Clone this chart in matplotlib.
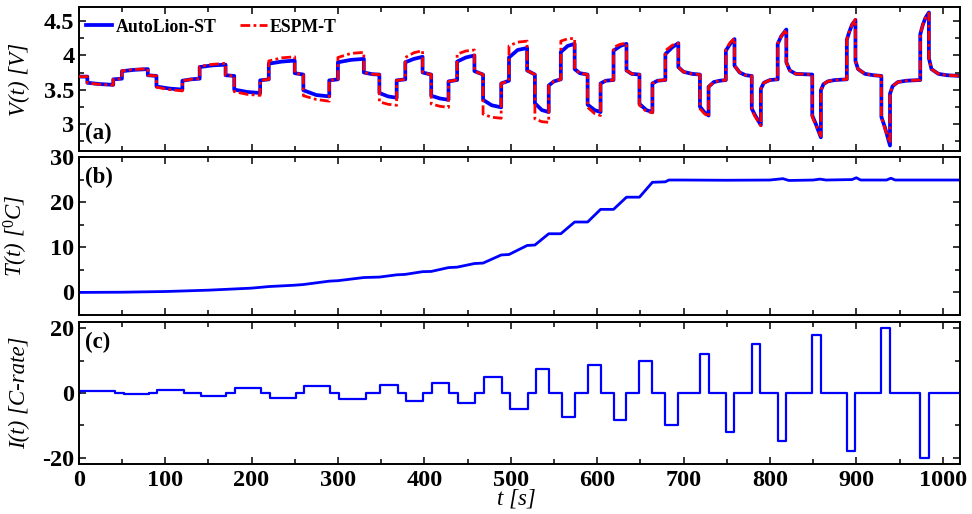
import matplotlib
matplotlib.use("Agg")
import matplotlib.pyplot as plt
from matplotlib.ticker import MultipleLocator

# ---------------- data ----------------
# Voltage: time points (duplicate times = instantaneous jumps)
t_v = [0, 10, 10, 25, 40, 40, 50, 50, 65, 80, 80, 90, 90, 105, 120, 120, 130, 140,
       140, 155, 170, 170, 180, 180, 195, 210, 210, 220, 220, 235, 250, 250, 260,
       260, 275, 290, 290, 300, 300, 315, 330, 330, 340, 348, 348, 358, 368, 368, 378,
       378, 388, 398, 398, 408, 408, 418, 428, 428, 438, 438, 448, 458, 458, 468,
       468, 478, 489, 489, 498, 498, 508, 519, 519, 528, 528, 536, 544, 544, 550, 558,
       558, 566, 574, 574, 580, 589, 589, 597, 604, 604, 610, 619, 619, 627, 634,
       634, 640, 649, 649, 657, 664, 664, 670, 679, 679, 687, 694, 694, 700, 710, 719,
       719, 724, 729, 729, 735, 742, 749, 749, 754, 759, 759, 765, 772, 779,
       779, 783, 789.5, 789.5, 793, 800, 809, 809, 813, 819, 819, 823, 830, 849,
       849, 853, 859, 859, 862, 867, 875, 889, 889, 892, 895, 899, 899, 902, 910, 920, 929,
       929, 933, 939, 939, 942, 948, 958, 974, 974, 977, 980, 984, 984, 987, 995, 1005, 1020]
v_autolion = [3.69, 3.69, 3.60, 3.58, 3.57, 3.65, 3.66, 3.77, 3.79, 3.80, 3.71, 3.70,
              3.545, 3.515, 3.50, 3.63, 3.65, 3.66, 3.83, 3.855, 3.865, 3.71, 3.70, 3.50,
              3.465, 3.45, 3.635, 3.65, 3.88, 3.91, 3.925, 3.74, 3.72, 3.49, 3.42, 3.40,
              3.635, 3.65, 3.90, 3.935, 3.95, 3.75, 3.725, 3.72, 3.45, 3.40, 3.38, 3.635,
              3.65, 3.90, 3.95, 3.98, 3.75, 3.72, 3.41, 3.37, 3.35, 3.62, 3.64, 3.91, 3.97,
              4.00, 3.77, 3.72, 3.35, 3.27, 3.24, 3.59, 3.63, 3.97, 4.08, 4.11, 3.78, 3.72,
              3.30, 3.20, 3.17, 3.56, 3.62, 3.65, 4.05, 4.14, 4.17, 3.80, 3.74, 3.72,
              3.28, 3.20, 3.17, 3.59, 3.63, 3.64, 4.07, 4.14, 4.17, 3.78, 3.73, 3.72,
              3.29, 3.20, 3.17, 3.59, 3.63, 3.64, 4.02, 4.12, 4.18, 3.83, 3.76, 3.73, 3.72,
              3.25, 3.17, 3.12, 3.54, 3.61, 3.63, 3.64, 4.07, 4.17, 4.24, 3.85, 3.75, 3.71, 3.70,
              3.22, 3.12, 2.98, 3.51, 3.60, 3.64, 3.65, 4.17, 4.28, 4.38, 3.90, 3.78, 3.73, 3.72,
              3.12, 3.00, 2.80, 3.49, 3.58, 3.62, 3.64, 3.65, 4.23, 4.35, 4.45, 4.52, 3.92, 3.80,
              3.73, 3.71, 3.70, 3.10, 2.95, 2.68, 3.44, 3.55, 3.61, 3.63, 3.64, 4.31, 4.45,
              4.55, 4.63, 3.96, 3.80, 3.73, 3.71, 3.70]
v_espm = [3.69, 3.69, 3.595, 3.575, 3.565, 3.65, 3.66, 3.775, 3.795, 3.805, 3.71, 3.70,
          3.535, 3.50, 3.48, 3.63, 3.65, 3.66, 3.84, 3.87, 3.885, 3.71, 3.70, 3.47,
          3.43, 3.415, 3.635, 3.65, 3.92, 3.965, 3.98, 3.74, 3.72, 3.41, 3.355, 3.33,
          3.635, 3.65, 3.97, 4.03, 4.045, 3.75, 3.725, 3.72, 3.32, 3.285, 3.27, 3.635,
          3.65, 3.97, 4.04, 4.07, 3.75, 3.72, 3.29, 3.255, 3.24, 3.62, 3.64, 4.02, 4.065,
          4.08, 3.77, 3.72, 3.14, 3.095, 3.08, 3.59, 3.63, 4.14, 4.195, 4.21, 3.78, 3.72,
          3.07, 3.03, 3.02, 3.56, 3.62, 3.65, 4.21, 4.245, 4.25, 3.80, 3.74, 3.72,
          3.24, 3.15, 3.12, 3.59, 3.63, 3.64, 4.12, 4.165, 4.18, 3.78, 3.73, 3.72,
          3.27, 3.18, 3.16, 3.59, 3.63, 3.64, 4.07, 4.15, 4.18, 3.83, 3.76, 3.73, 3.72,
          3.22, 3.15, 3.10, 3.54, 3.61, 3.63, 3.64, 4.09, 4.19, 4.25, 3.85, 3.75, 3.71, 3.70,
          3.20, 3.10, 2.97, 3.51, 3.60, 3.64, 3.65, 4.17, 4.28, 4.38, 3.90, 3.78, 3.73, 3.72,
          3.10, 2.98, 2.82, 3.49, 3.58, 3.62, 3.64, 3.65, 4.23, 4.35, 4.45, 4.53, 3.92, 3.80,
          3.73, 3.71, 3.70, 3.10, 2.93, 2.72, 3.44, 3.55, 3.61, 3.63, 3.64, 4.31, 4.45,
          4.55, 4.62, 3.96, 3.80, 3.73, 3.71, 3.70]

# Temperature
t_T = [0, 50, 100, 150, 200, 220, 250, 260, 290, 300, 330, 348, 368, 378, 398, 408,
       428, 438, 458, 468, 489, 498, 519, 528, 544, 558, 574, 589, 604, 619, 634, 649,
       664, 679, 683, 700, 750, 800, 815, 822, 850, 858, 865, 895, 900, 905, 935, 940,
       945, 1020]
temp = [0, 0.05, 0.2, 0.5, 0.95, 1.3, 1.6, 1.75, 2.5, 2.6, 3.3, 3.4, 3.9, 4.0, 4.6, 4.65,
        5.5, 5.6, 6.4, 6.5, 8.3, 8.4, 10.4, 10.5, 13.0, 13.0, 15.6, 15.6, 18.4, 18.4,
        21.1, 21.1, 24.4, 24.5, 24.9, 24.9, 24.85, 24.9, 25.2, 24.8, 24.9, 25.1, 24.9,
        25.0, 25.4, 24.9, 24.9, 25.3, 24.9, 24.9]

# Current profile (value holds from each time until the next)
t_I = [0, 2, 42, 52, 81, 91, 122, 141, 171, 181, 211, 221, 251, 261, 291, 301, 332,
       349, 369, 379, 399, 409, 429, 439, 459, 469, 490, 499, 520, 529, 544, 559, 574,
       590, 604, 620, 634, 649, 664, 679, 694, 719, 729, 749, 759, 779, 789, 809, 819,
       849, 859, 889, 899, 929, 939, 974, 984, 1020]
current = [0, 0.5, 0, -0.5, 0, 1, 0, -1, 0, 1.5, 0, -1.5, 0, 2, 0, -2, 0, 2.5, 0, -2.5,
           0, 3, 0, -3, 0, 5, 0, -5, 0, 7.5, 0, -7.5, 0, 8.5, 0, -8.5, 0, 10, 0, -10,
           0, 12, 0, -12, 0, 15, 0, -15, 0, 18, 0, -18, 0, 20, 0, -20, 0, 0]

series_names = ["AutoLion-ST", "ESPM-T"]
x_ticks = [0, 100, 200, 300, 400, 500, 600, 700, 800, 900, 1000]

# ---------------- figure ----------------
plt.rcParams['font.family'] = ['Liberation Serif', 'DejaVu Serif']
plt.rcParams['mathtext.fontset'] = 'custom'
plt.rcParams['mathtext.it'] = 'Liberation Serif:italic'
plt.rcParams['mathtext.rm'] = 'Liberation Serif'

fig = plt.figure(figsize=(9.72, 5.14), dpi=100)
W, H = 972.0, 514.0
left = 78.7 / W
width = (960 - 78.7) / W
ax_a = fig.add_axes([left, 1 - 151 / H, width, (151 - 7) / H])
ax_b = fig.add_axes([left, 1 - 315 / H, width, (315 - 157) / H])
ax_c = fig.add_axes([left, 1 - 464 / H, width, (464 - 321.7) / H])

blue = '#0000ff'
red = '#ff0000'

ax_a.plot(t_v, v_autolion, color=blue, lw=2.7, label=series_names[0], zorder=2)
ax_a.plot(t_v, v_espm, color=red, lw=2.0, linestyle=(0, (3.5, 1.2, 1.0, 1.2)),
          label=series_names[1], zorder=3)
ax_b.plot(t_T, temp, color=blue, lw=2.0)
ax_c.step(t_I, current, where='post', color=blue, lw=1.6)

ax_a.set_ylim(2.6, 4.71)
ax_a.yaxis.set_minor_locator(MultipleLocator(0.25))
ax_a.set_yticks([3, 3.5, 4, 4.5])
ax_a.set_yticklabels(['3', '3.5', '4', '4.5'])

ax_b.set_ylim(-5, 30)
ax_b.set_yticks([0, 10, 20, 30])
ax_b.yaxis.set_minor_locator(MultipleLocator(5))

ax_c.set_ylim(-22, 22)
ax_c.set_yticks([-20, 0, 20])
ax_c.set_yticklabels(['-20', '0', '20'])
ax_c.yaxis.set_minor_locator(MultipleLocator(10))

for ax in (ax_a, ax_b, ax_c):
    ax.set_xlim(0, 1020)
    ax.set_xticks(x_ticks)
    ax.xaxis.set_minor_locator(MultipleLocator(50))
    ax.tick_params(which='both', direction='in', top=True, right=True, width=1.1)
    ax.tick_params(which='major', length=5)
    ax.tick_params(which='minor', length=3.5)
    ax.tick_params(axis='y', which='major', labelsize=17.5, pad=3)
    ax.tick_params(axis='x', which='major', labelsize=17.5, pad=4)
    for lab in ax.get_xticklabels() + ax.get_yticklabels():
        lab.set_fontweight('bold')
    for sp in ax.spines.values():
        sp.set_linewidth(1.4)
    ax.yaxis.set_label_coords(-0.055, 0.5)

ax_a.tick_params(axis='x', labelbottom=False)
ax_b.tick_params(axis='x', labelbottom=False)

ylab_kw = dict(fontsize=16.5, fontstyle='italic')
ax_a.set_ylabel('V(t) [V]', **ylab_kw)
ax_b.set_ylabel(r'T(t) [$^{0}$C]', **ylab_kw)
ax_c.set_ylabel('I(t) [C-rate]', **ylab_kw)
ax_c.set_xlabel('t [s]', fontsize=16.5, fontstyle='italic')
ax_c.xaxis.set_label_coords(0.497, -0.172)

ax_a.text(0.007, 0.05, '(a)', transform=ax_a.transAxes, fontsize=16.5,
          fontweight='bold', ha='left', va='bottom')
ax_b.text(0.007, 0.94, '(b)', transform=ax_b.transAxes, fontsize=16.5,
          fontweight='bold', ha='left', va='top')
ax_c.text(0.007, 0.93, '(c)', transform=ax_c.transAxes, fontsize=16.5,
          fontweight='bold', ha='left', va='top')

leg = ax_a.legend(loc='center left', ncol=2, frameon=False,
                  prop={'weight': 'bold', 'size': 12.8}, handlelength=1.5,
                  handletextpad=0.2, columnspacing=1.3,
                  bbox_to_anchor=(0.008, 0.86), borderaxespad=0, borderpad=0)

fig.savefig('out.png', dpi=100)
